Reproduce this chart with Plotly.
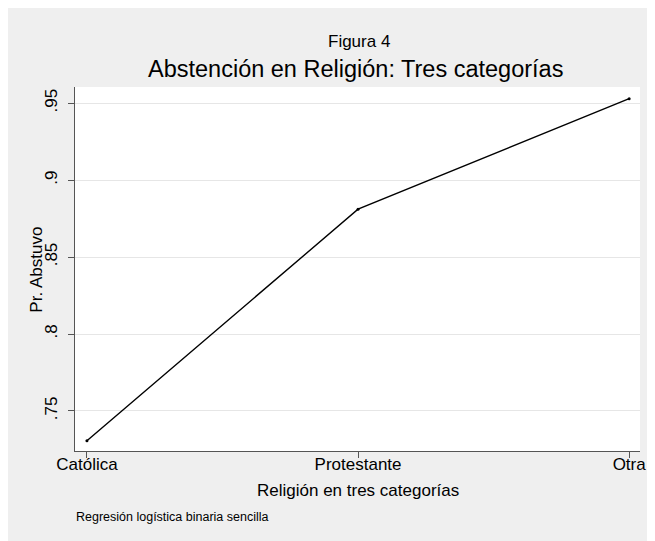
import plotly.graph_objects as go

categories = ["Católica", "Protestante", "Otra"]
pr_abstuvo = [0.7307, 0.8811, 0.9529]
y_tickvals = [0.75, 0.80, 0.85, 0.90, 0.95]
y_ticktext = [".75", ".8", ".85", ".9", ".95"]

# The page body adds an 8px margin; positions below are measured in window pixels.
OFF = 8
W, H = 647, 533
L, T = 67, 78.5
R = W - (646 - OFF)
B = H - (451 - OFF)
pw, ph = W - L - R, H - T - B

def px_x(p):
    return (p - OFF - L) / pw

def px_y(p):
    return (H - B - (p - OFF)) / ph

FONT = "Liberation Sans, Arial, Helvetica, sans-serif"
BG = "#EFEFEF"
AX = "#555555"

fig = go.Figure()
fig.add_trace(go.Scatter(
    x=list(range(len(categories))), y=pr_abstuvo,
    mode="lines+markers",
    line=dict(color="black", width=1.4),
    marker=dict(color="black", size=3),
    hoverinfo="skip", showlegend=False,
))

fig.update_layout(
    width=W, height=H,
    margin=dict(l=L, r=R, t=T, b=B, pad=0),
    paper_bgcolor=BG, plot_bgcolor="white",
    font=dict(family=FONT, color="black"),
    showlegend=False,
    xaxis=dict(
        range=[-0.044, 2.040],
        tickvals=list(range(len(categories))), ticktext=categories,
        ticks="outside", ticklen=6, tickcolor=AX, tickwidth=1,
        showline=True, linecolor=AX, linewidth=1,
        showgrid=False, zeroline=False,
        tickfont=dict(size=17, family=FONT),
        ticklabelstandoff=-8,
    ),
    yaxis=dict(
        range=[0.724, 0.9605],
        tickvals=y_tickvals, ticktext=y_ticktext,
        tickangle=-90,
        ticks="outside", ticklen=6, tickcolor=AX, tickwidth=1,
        showline=True, linecolor=AX, linewidth=1,
        showgrid=True, gridcolor="#E6E6E6", gridwidth=1,
        zeroline=False,
        tickfont=dict(size=17, family=FONT),
        ticklabelstandoff=4,
    ),
    annotations=[
        dict(text="Figura 4", xref="paper", yref="paper",
             x=px_x(362), y=px_y(40.5), xanchor="center", yanchor="middle",
             showarrow=False, font=dict(size=17, family=FONT)),
        dict(text="Abstención en Religión: Tres categorías", xref="paper", yref="paper",
             x=px_x(358), y=px_y(68), xanchor="center", yanchor="middle",
             showarrow=False, font=dict(size=23.5, family=FONT)),
        dict(text="Religión en tres categorías", xref="paper", yref="paper",
             x=px_x(360.5), y=px_y(491), xanchor="center", yanchor="middle",
             showarrow=False, font=dict(size=17, family=FONT)),
        dict(text="Pr. Abstuvo", xref="paper", yref="paper", textangle=-90,
             x=px_x(36), y=px_y(269), xanchor="center", yanchor="middle",
             showarrow=False, font=dict(size=17, family=FONT)),
        dict(text="Regresión logística binaria sencilla", xref="paper", yref="paper",
             x=px_x(74), y=px_y(517), xanchor="left", yanchor="middle",
             showarrow=False, font=dict(size=12.5, family=FONT)),
    ],
)

fig.write_html("out.html")
